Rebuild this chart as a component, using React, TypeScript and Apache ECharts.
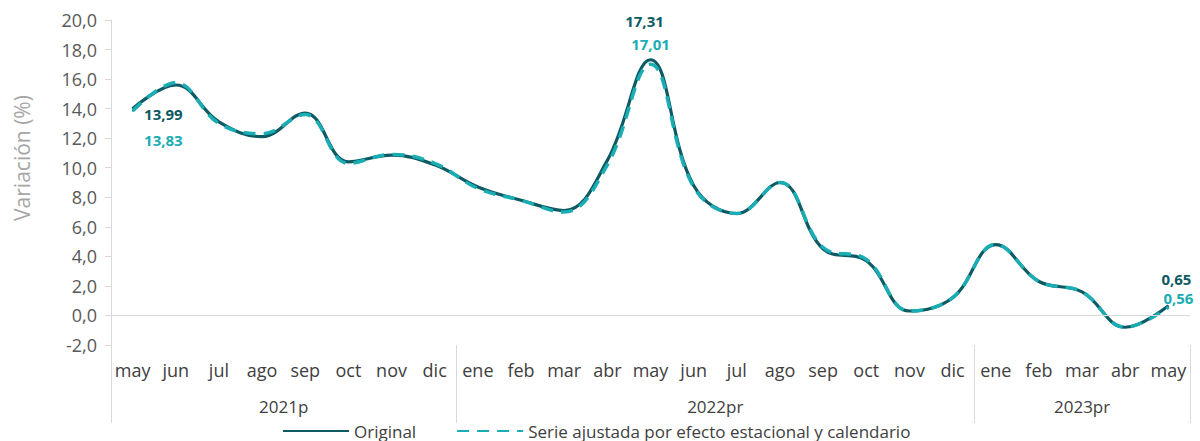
import React, { useEffect, useRef } from "react";
import * as echarts from "echarts";

const months = [
  "may", "jun", "jul", "ago", "sep", "oct", "nov", "dic",
  "ene", "feb", "mar", "abr", "may", "jun", "jul", "ago", "sep", "oct", "nov", "dic",
  "ene", "feb", "mar", "abr", "may",
];
const years = ["2021p", "2022pr", "2023pr"];
const yearCenters = [4, 14, 22.5];
const yearBounds = [0, 8, 20, 25];

const original = [
  13.99, 15.6, 13.1, 12.1, 13.7, 10.4, 10.85, 10.2,
  8.7, 7.8, 7.1, 10.5, 17.31, 8.8, 6.9, 9.0, 4.5, 3.7, 0.3, 1.2,
  4.8, 2.3, 1.6, -0.8, 0.65,
];
const adjusted = [
  13.83, 15.75, 13.0, 12.3, 13.6, 10.3, 10.9, 10.3,
  8.6, 7.8, 7.0, 10.2, 17.01, 8.7, 6.9, 9.0, 4.6, 3.8, 0.3, 1.2,
  4.8, 2.3, 1.6, -0.8, 0.56,
];

const DARK = "#0d5a62";
const TEAL = "#1aadb3";
const fmt = (v: number) => v.toFixed(2).replace(".", ",");

export default function App() {
  const ref = useRef<HTMLDivElement>(null);
  useEffect(() => {
    document.body.style.margin = "0";
    const chart = echarts.init(ref.current!, null, { renderer: "svg" });
    const font = "'Open Sans', sans-serif";
    const lastIdx = original.length - 1;
    const peakIdx = 12;

    const mk = (label: any) => ({ symbol: "circle", symbolSize: 1, label });
    const origData = original.map((v, i) => {
      if (i === 0) return { value: v, ...mk({ show: true, position: "right", offset: [6, 5] }) };
      if (i === peakIdx) return { value: v, ...mk({ show: true, position: "top", offset: [-6, -26] }) };
      if (i === lastIdx) return { value: v, ...mk({ show: true, position: "top", offset: [8, -14] }) };
      return { value: v };
    });
    const adjData = adjusted.map((v, i) => {
      if (i === 0) return { value: v, ...mk({ show: true, position: "right", offset: [6, 29] }) };
      if (i === peakIdx) return { value: v, ...mk({ show: true, position: "top", offset: [0, -7] }) };
      if (i === lastIdx) return { value: v, ...mk({ show: true, position: "top", offset: [10, 4] }) };
      return { value: v };
    });

    chart.setOption({
      animation: false,
      textStyle: { fontFamily: font },
      grid: { left: 111, right: 10, top: 20, bottom: 96 },
      legend: {
        bottom: 0,
        left: 277,
        itemWidth: 66,
        itemHeight: 8,
        itemGap: 40,
        padding: [0, 5, 0, 5],
        itemStyle: { opacity: 0 },
        textStyle: { fontSize: 17, color: "#404040", fontFamily: font, lineHeight: 20 },
        data: ["Original", "Serie ajustada por efecto estacional y calendario"],
      },
      xAxis: [
        {
          type: "category",
          data: months,
          boundaryGap: true,
          axisLine: { show: false },
          axisTick: { show: false },
          axisLabel: { color: "#404040", fontSize: 18, margin: 16, interval: 0, fontFamily: font },
        },
        {
          type: "value",
          min: 0,
          max: 25,
          position: "bottom",
          axisLine: { show: false },
          splitLine: { show: false },
          axisTick: {
            show: true,
            customValues: yearBounds,
            length: 78,
            lineStyle: { color: "#d9d9d9", width: 1 },
          },
          axisLabel: {
            customValues: yearCenters,
            margin: 51,
            color: "#404040",
            fontSize: 17,
            lineHeight: 20,
            fontFamily: font,
            formatter: (v: number) => years[yearCenters.indexOf(v)] ?? "",
          },
        },
      ],
      yAxis: {
        type: "value",
        min: -2,
        max: 20,
        interval: 2,
        axisLine: { show: true, lineStyle: { color: "#d9d9d9" } },
        axisTick: { show: true, length: 6, lineStyle: { color: "#d9d9d9" } },
        splitLine: { show: false },
        axisLabel: {
          color: "#595959",
          fontSize: 18,
          margin: 14,
          fontFamily: font,
          formatter: (v: number) => v.toFixed(1).replace(".", ","),
        },
      },
      graphic: [
        {
          type: "text",
          x: 22,
          y: 158,
          rotation: Math.PI / 2,
          style: {
            text: "Variación (%)",
            fill: "#a6a6a6",
            fontSize: 21,
            fontFamily: font,
            align: "center",
            verticalAlign: "middle",
          },
        },
      ],
      series: [
        {
          name: "Original",
          type: "line",
          data: origData,
          smooth: 0.4,
          symbol: "none",
          lineStyle: { color: DARK, width: 3.2 },
          itemStyle: { color: DARK },
          label: {
            color: DARK,
            fontWeight: "bold",
            fontSize: 15,
            fontFamily: font,
            formatter: (p: any) => fmt(p.value),
          },
          markLine: {
            silent: true,
            symbol: "none",
            label: { show: false },
            lineStyle: { color: "#d9d9d9", type: "solid", width: 1 },
            data: [{ yAxis: 0 }],
          },
          z: 2,
        },
        {
          name: "Serie ajustada por efecto estacional y calendario",
          type: "line",
          data: adjData,
          smooth: 0.4,
          symbol: "none",
          lineStyle: { color: TEAL, width: 3.5, type: [12, 8] },
          itemStyle: { color: TEAL },
          label: {
            color: TEAL,
            fontWeight: "bold",
            fontSize: 15,
            fontFamily: font,
            formatter: (p: any) => fmt(p.value),
          },
          z: 3,
        },
      ],
    });
    return () => chart.dispose();
  }, []);
  return <div ref={ref} style={{ width: 1200, height: 441 }} />;
}
